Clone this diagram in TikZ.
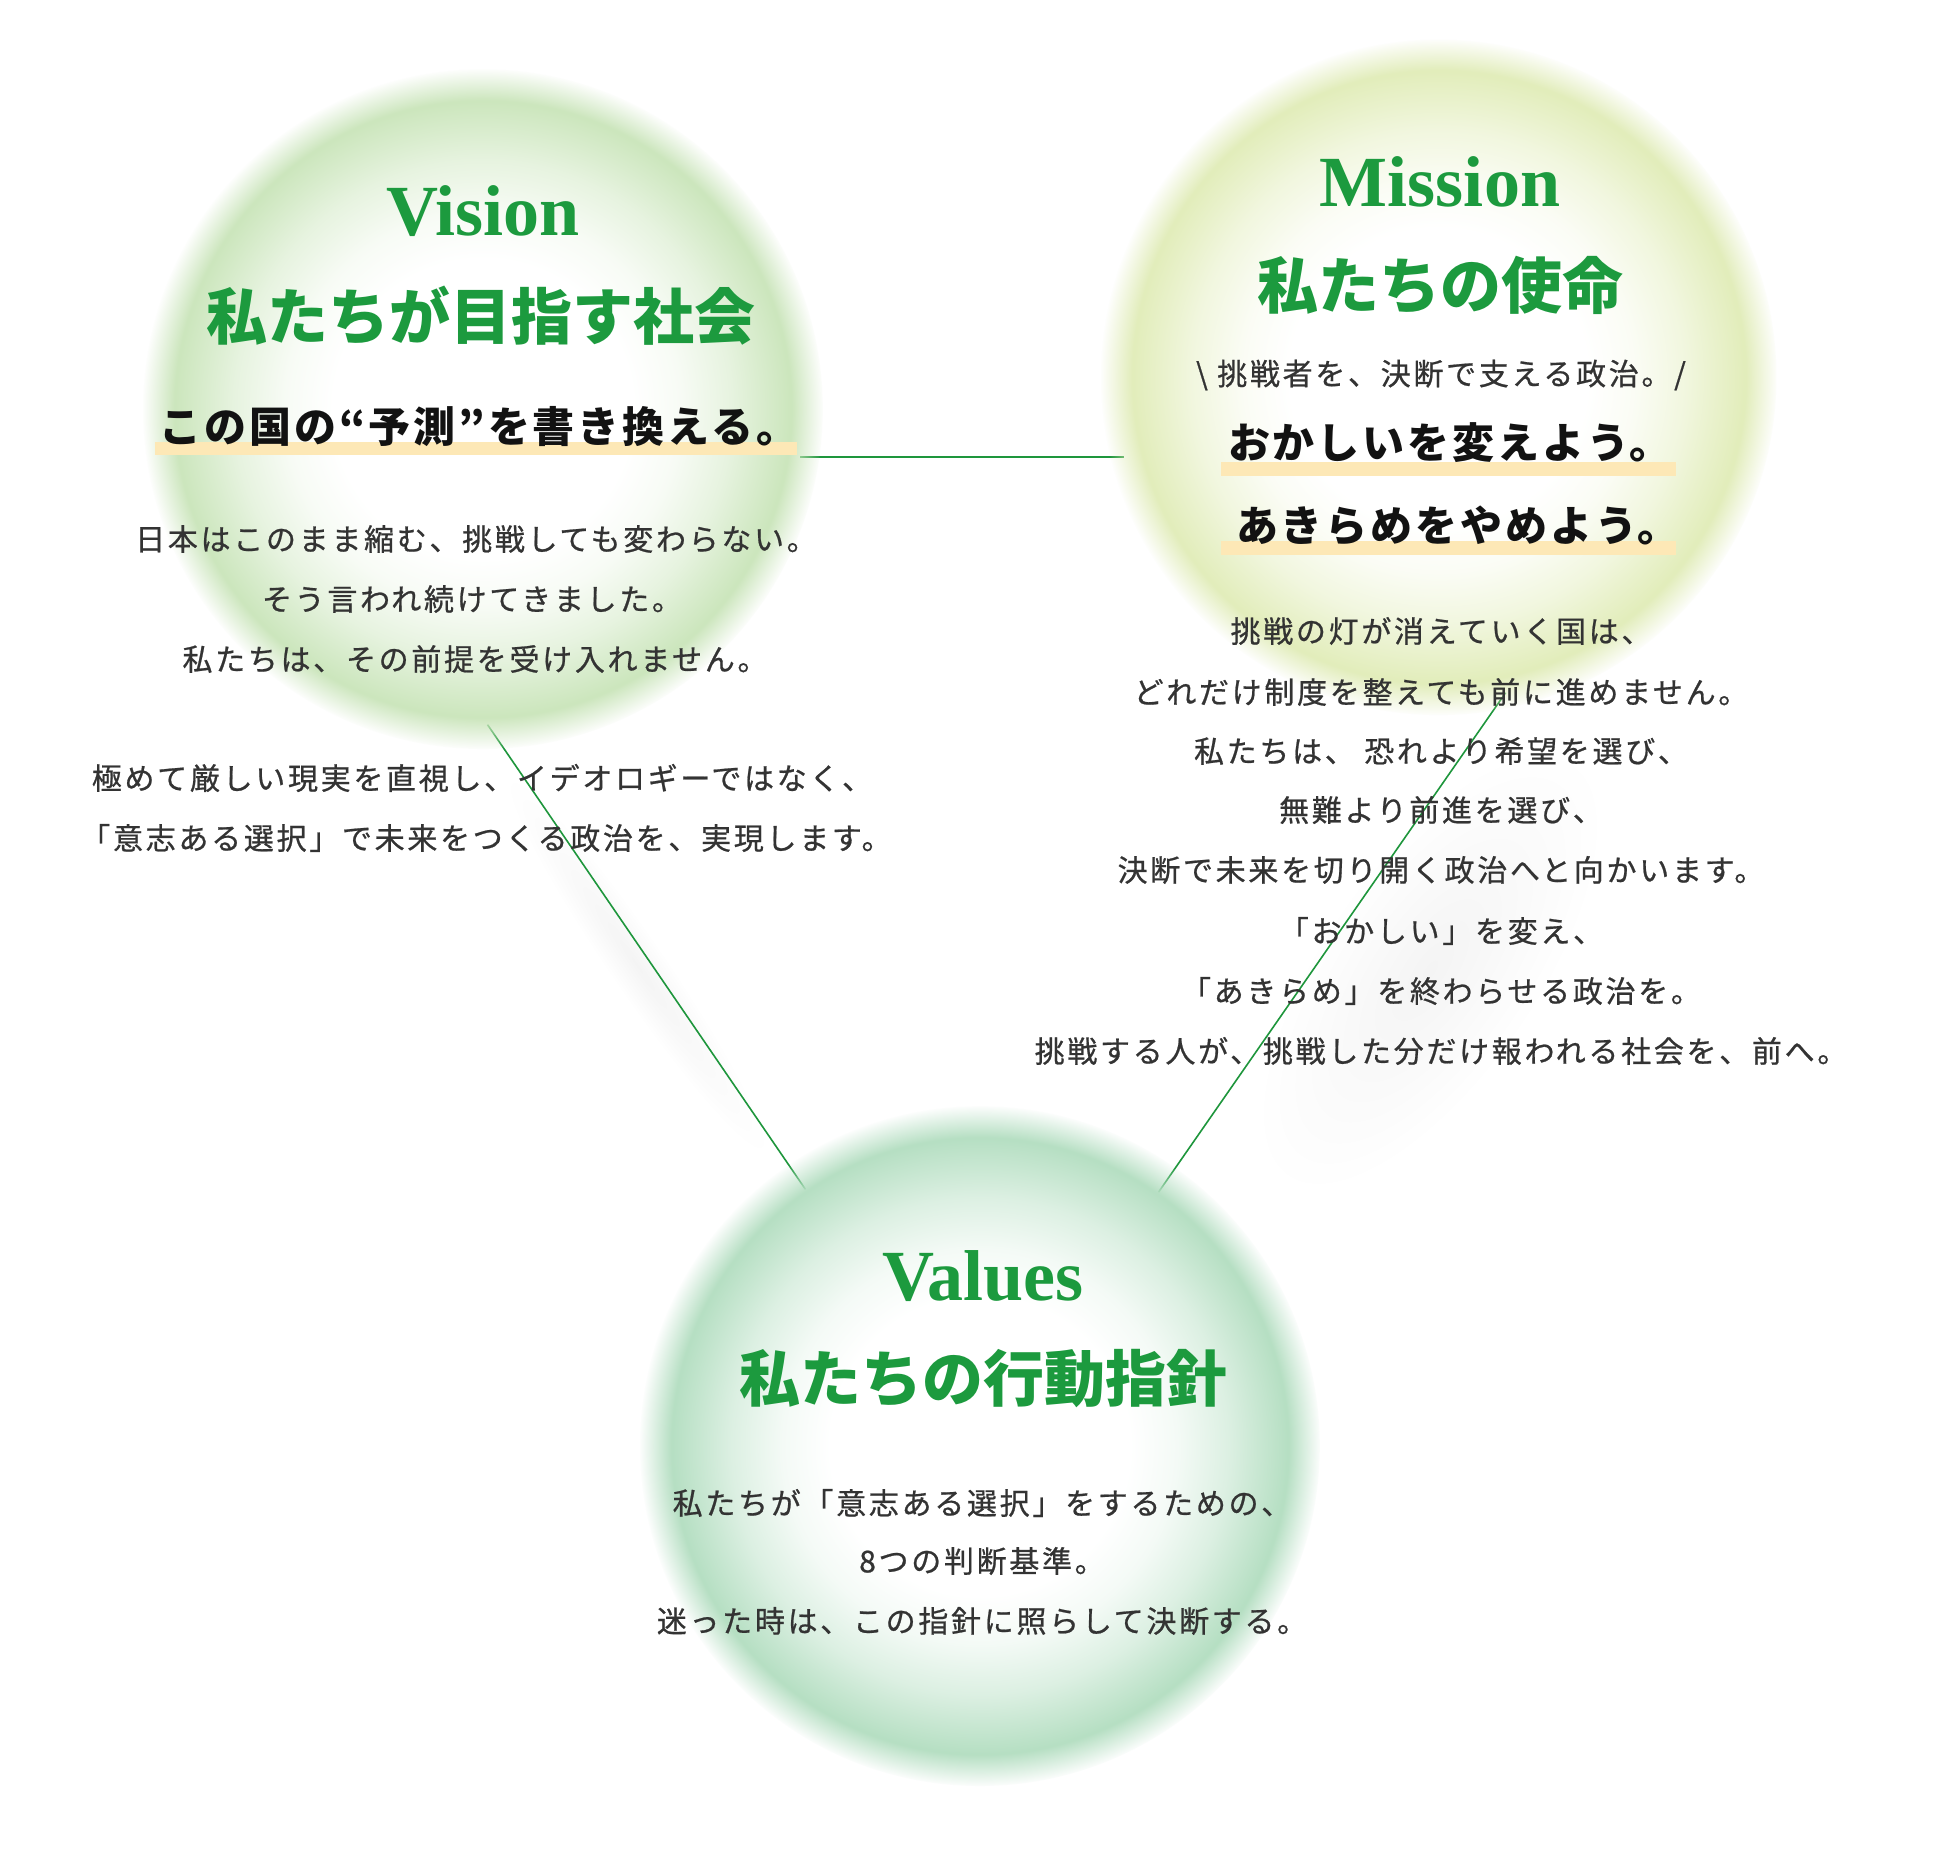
\documentclass[tikz,border=0pt]{standalone}
\usepackage{fontspec}
\setmainfont{Liberation Serif}
\newfontfamily\jp{Noto Sans CJK JP}
\newfontfamily\jpsp{Noto Sans CJK JP}[LetterSpace=7]
\newfontfamily\jpbody{Noto Sans CJK JP}[LetterSpace=9, FakeBold=0.7]
\usetikzlibrary{fadings}

\definecolor{vC}{RGB}{204,230,189}
\definecolor{mC}{RGB}{226,237,187}
\definecolor{aC}{RGB}{182,223,195}
\definecolor{ttl}{RGB}{28,154,62}
\definecolor{lnC}{RGB}{30,150,60}
\definecolor{bodyC}{RGB}{51,51,51}
\definecolor{hlC}{RGB}{253,232,182}

\pgfdeclareradialshading{vshade}{\pgfpointorigin}{color(0bp)=(white); color(11bp)=(white); color(14.5bp)=(vC!15!white); color(18.3bp)=(vC!48!white); color(20.5bp)=(vC!75!white); color(22.6bp)=(vC); color(25bp)=(vC); color(50bp)=(vC)}
\pgfdeclareradialshading{mshade}{\pgfpointorigin}{color(0bp)=(white); color(11bp)=(white); color(14.5bp)=(mC!15!white); color(18.3bp)=(mC!48!white); color(20.5bp)=(mC!75!white); color(22.6bp)=(mC); color(25bp)=(mC); color(50bp)=(mC)}
\pgfdeclareradialshading{ashade}{\pgfpointorigin}{color(0bp)=(white); color(11bp)=(white); color(14.5bp)=(aC!15!white); color(18.3bp)=(aC!48!white); color(20.5bp)=(aC!75!white); color(22.6bp)=(aC); color(25bp)=(aC); color(50bp)=(aC)}
\pgfdeclareradialshading{edgeshade}{\pgfpointorigin}{color(0bp)=(pgftransparent!0); color(22.6bp)=(pgftransparent!0); color(25bp)=(pgftransparent!100); color(50bp)=(pgftransparent!100)}
\pgfdeclarefading{edgefade}{\pgfuseshading{edgeshade}}
\tikzfading[name=softout, inner color=transparent!0, outer color=transparent!100]

\tikzset{
  latinT/.style={font=\fontsize{72}{72}\selectfont\bfseries, text=ttl, inner sep=0pt},
  jpT/.style={font=\jp\fontsize{61}{61}\selectfont\bfseries, text=ttl, inner sep=0pt},
  hlT/.style={font=\jpsp\fontsize{42}{42}\selectfont\bfseries, text=black!93, inner sep=0pt},
  bodyT/.style={font=\jpbody\fontsize{30}{30}\selectfont, text=bodyC, inner sep=0pt},
  hlbar/.style={fill=hlC},
  link/.style={draw=lnC, line width=1.6pt},
  lineshadow/.style={fill=black, path fading=softout},
}

\begin{document}
\begin{tikzpicture}[x=1pt, y=-1pt]
\useasboundingbox (0,0) rectangle (1943,1848);
\fill[white] (0,0) rectangle (1943,1848);

% soft shadows beside the diagonal connectors
\begin{scope}[transform canvas={shift={(637,965)}, rotate=-55.6}]
  \fill[lineshadow, opacity=0.045] (0,0) ellipse (230pt and 28pt);
\end{scope}
\begin{scope}[transform canvas={shift={(1430,970)}, rotate=55.2}]
  \fill[lineshadow, opacity=0.045] (0,0) ellipse (260pt and 110pt);
\end{scope}

% connector end points
\coordinate (vR) at (800,457);
\coordinate (mL) at (1124,457);
\coordinate (vB) at (487.5,724.6);
\coordinate (aL) at (805.5,1189.4);
\coordinate (mB) at (1505.6,692.7);
\coordinate (aR) at (1158.4,1192.3);

\draw[link] (vR) -- (mL);
\draw[link] (vB) -- (aL);
\draw[link] (mB) -- (aR);

% glowing circles
\shade[shading=vshade, path fading=edgefade] (483,409) circle[radius=340pt];
\shade[shading=mshade, path fading=edgefade] (1439,377) circle[radius=338pt];
\shade[shading=ashade, path fading=edgefade] (980,1446) circle[radius=340pt];

% ---- Vision ----
\node[latinT] (vT) at (483,211) {Vision};
\node[jpT] (vH) at (481,316) {私たちが目指す社会};
\fill[hlbar] (155,442) rectangle (797,455);
\node[hlT] (vS) at (479,427) {この国の“予測”を書き換える。};
\node[bodyT] (v1) at (476,539) {日本はこのまま縮む、挑戦しても変わらない。};
\node[bodyT] (v2) at (472,599) {そう言われ続けてきました。};
\node[bodyT] (v3) at (475,659) {私たちは、その前提を受け入れません。};
\node[bodyT] (v4) at (482,778) {極めて厳しい現実を直視し、イデオロギーではなく、};
\node[bodyT] (v5) at (486,838) {「意志ある選択」で未来をつくる政治を、実現します。};

% ---- Mission ----
\node[latinT] (mT) at (1440,182) {Mission};
\node[jpT] (mH) at (1440,285) {私たちの使命};
\node[bodyT] (mS) at (1441,375) {\textbackslash\ 挑戦者を、決断で支える政治。/};
\fill[hlbar] (1221,462) rectangle (1676,476);
\fill[hlbar] (1221,541) rectangle (1676,555);
\node[hlT] (m1) at (1450,443) {おかしいを変えよう。};
\node[hlT] (m2) at (1458,526) {あきらめをやめよう。};
\node[bodyT] (mb1) at (1441,631) {挑戦の灯が消えていく国は、};
\node[bodyT] (mb2) at (1441,692) {どれだけ制度を整えても前に進めません。};
\node[bodyT] (mb3) at (1441,751) {私たちは、 恐れより希望を選び、};
\node[bodyT] (mb4) at (1441,810) {無難より前進を選び、};
\node[bodyT] (mb5) at (1441,870) {決断で未来を切り開く政治へと向かいます。};
\node[bodyT] (mb6) at (1441,931) {「おかしい」を変え、};
\node[bodyT] (mb7) at (1441,991) {「あきらめ」を終わらせる政治を。};
\node[bodyT] (mb8) at (1441,1051) {挑戦する人が、挑戦した分だけ報われる社会を、前へ。};

% ---- Values ----
\node[latinT] (aT) at (983,1276) {Values};
\node[jpT] (aH) at (983,1379) {私たちの行動指針};
\node[bodyT] (a1) at (982,1503) {私たちが「意志ある選択」をするための、};
\node[bodyT] (a2) at (982,1561) {8つの判断基準。};
\node[bodyT] (a3) at (982,1621) {迷った時は、この指針に照らして決断する。};
\end{tikzpicture}
\end{document}
